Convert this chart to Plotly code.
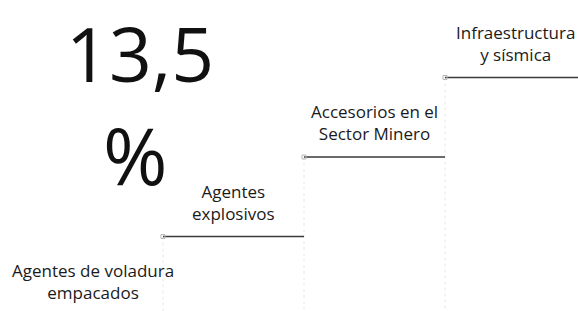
import plotly.graph_objects as go

# ---- data ----
categories = ["Agentes de voladura<br>empacados", "Agentes<br>explosivos",
              "Accesorios en el<br>Sector Minero", "Infraestructura<br>y sísmica"]
levels = [0, 1, 2, 3]
headline_value = "13,5"
headline_unit = "%"

FONT = "Open Sans, Noto Sans, sans-serif"
H, W = 311, 578
fig = go.Figure()

# faint vertical connectors (scan guides)
for i, lv in enumerate(levels):
    if i == 0:
        continue
    fig.add_trace(go.Scatter(x=[i, i], y=[lv, levels[0] - 1], mode="lines",
                             line=dict(color="#e8e8e8", width=1, dash="dot"),
                             hoverinfo="skip", showlegend=False))

# step treads
for i, lv in enumerate(levels):
    fig.add_trace(go.Scatter(x=[i, i + 1], y=[lv, lv], mode="lines",
                             line=dict(color="#3a3a3a", width=1.5),
                             hoverinfo="skip", showlegend=False))
    fig.add_trace(go.Scatter(x=[i], y=[lv], mode="markers",
                             marker=dict(symbol="square-open", size=4, color="#b8b8b8"),
                             hoverinfo="skip", showlegend=False))

# labels (anchored a little above each tread)
for i, (cat, lv) in enumerate(zip(categories, levels)):
    fig.add_annotation(x=i + 0.5, y=lv + 0.12, text=cat, showarrow=False,
                       xanchor="center", yanchor="bottom",
                       font=dict(family=FONT, size=17, color="#1a1a1a"))

fig.add_annotation(xref="paper", yref="paper", x=140 / W, y=1,
                   text=headline_value, showarrow=False,
                   xanchor="center", yanchor="top",
                   font=dict(family=FONT, size=75, color="#111111"))
fig.add_annotation(xref="paper", yref="paper", x=135 / W, y=1 - 155 / H,
                   text=headline_unit, showarrow=False,
                   xanchor="center", yanchor="middle",
                   font=dict(family=FONT, size=78, color="#111111"))

fig.update_layout(
    width=W, height=H,
    margin=dict(l=0, r=0, t=0, b=0),
    paper_bgcolor="white", plot_bgcolor="white",
    xaxis=dict(range=[-22 / 141, 556 / 141], visible=False, fixedrange=True),
    yaxis=dict(range=[(316 - 311) / 79.5, 316 / 79.5], visible=False, fixedrange=True),
    showlegend=False,
)

fig.write_html("out.html",
               config={"displayModeBar": False, "staticPlot": True},
               post_script="document.body.style.margin='0';document.body.style.overflow='hidden';")
